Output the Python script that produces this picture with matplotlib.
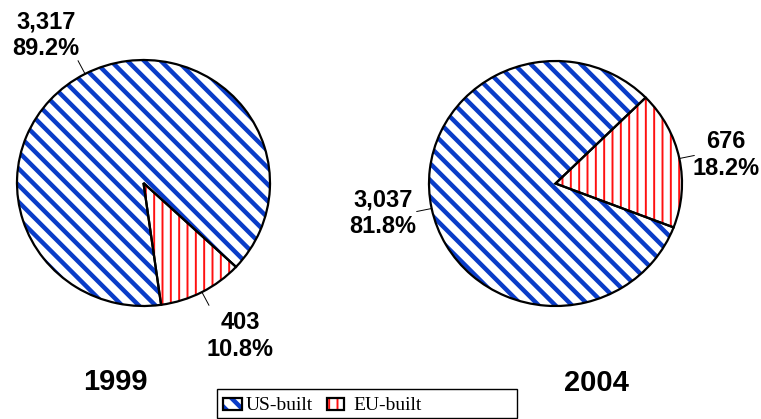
import matplotlib
matplotlib.use("Agg")
import matplotlib.pyplot as plt
import numpy as np
from matplotlib.patches import Rectangle
from matplotlib.lines import Line2D

# Aircraft in service by origin
years = ["1999", "2004"]
categories = ["US-built", "EU-built"]
us_built = [3317, 3037]
eu_built = [403, 676]
start_angles = [-82, -21]  # first slice angle, slices run clockwise

BLUE = "#0a3cc8"
RED = "#ff1010"
HATCHES = ["\\\\", "||"]
HATCH_LW = [3.2, 1.4]
COLORS = [BLUE, RED]

W, H, DPI = 761, 419, 100
plt.rcParams["font.family"] = ["Liberation Sans", "DejaVu Sans"]
plt.rcParams["hatch.linewidth"] = 3.2

fig = plt.figure(figsize=(W / DPI, H / DPI), dpi=DPI)


def fig_frac(x, y):
    return x / W, 1 - y / H


def box_axes(x0, y0, x1, y1):
    return fig.add_axes([x0 / W, 1 - y1 / H, (x1 - x0) / W, (y1 - y0) / H])


def style_hatch(patch, k):
    patch.set_facecolor("white")
    patch.set_edgecolor(COLORS[k])
    patch.set_hatch(HATCHES[k])
    patch.set_linewidth(0)
    if hasattr(patch, "set_hatch_linewidth"):
        patch.set_hatch_linewidth(HATCH_LW[k])
    else:
        patch._hatch_linewidth = HATCH_LW[k]


pie_boxes = [(17, 60, 270, 306), (429, 61, 682, 306)]
# label anchor offsets (in pie-radius units) for US / EU slices
label_pos = [
    [(-0.771, 1.203), (0.763, -1.24)],
    [(-1.364, -0.245), (1.348, 0.229)],
]
title_pos = [(115, 382), (596, 383)]

for i, year in enumerate(years):
    ax = box_axes(*pie_boxes[i])
    vals = [us_built[i], eu_built[i]]
    total = sum(vals)
    # hatched fill (hatch takes the edge colour, so outline is drawn separately)
    wedges, _ = ax.pie(vals, startangle=start_angles[i], counterclock=False,
                       radius=1, center=(0, 0), frame=False)
    for k, w in enumerate(wedges):
        style_hatch(w, k)
    outline, _ = ax.pie(vals, startangle=start_angles[i], counterclock=False,
                        radius=1, center=(0, 0), frame=False,
                        wedgeprops=dict(fill=False, edgecolor="black",
                                        linewidth=1.6))
    ax.set_xlim(-1, 1)
    ax.set_ylim(-1, 1)
    ax.set_aspect("auto")
    ax.axis("off")

    for j, w in enumerate(outline):
        mid = np.deg2rad((w.theta1 + w.theta2) / 2)
        cx, cy = np.cos(mid), np.sin(mid)
        ax.add_line(Line2D([cx, 1.12 * cx], [cy, 1.12 * cy], color="black",
                           linewidth=0.7, clip_on=False))
        pct = 100 * vals[j] / total
        tx, ty = label_pos[i][j]
        ax.text(tx, ty, f"{vals[j]:,}\n{pct:.1f}%", ha="center", va="center",
                fontsize=17, fontweight="bold", linespacing=1.22)

    fx, fy = fig_frac(*title_pos[i])
    fig.text(fx, fy, year, ha="center", va="center", fontsize=21,
             fontweight="bold")

# legend
lx0, ly0, lx1, ly1 = 217, 389, 517, 418
fig.add_artist(Rectangle(fig_frac(lx0, ly1), (lx1 - lx0) / W, (ly1 - ly0) / H,
                         transform=fig.transFigure, fill=False,
                         edgecolor="black", linewidth=1.0))
handle_boxes = [(223, 398, 242, 410), (327, 398, 344, 410)]
text_x = [246, 353]
for k, name in enumerate(categories):
    x0, y0, x1, y1 = handle_boxes[k]
    hp = Rectangle(fig_frac(x0, y1), (x1 - x0) / W, (y1 - y0) / H,
                   transform=fig.transFigure)
    style_hatch(hp, k)
    fig.add_artist(hp)
    fig.add_artist(Rectangle(fig_frac(x0, y1), (x1 - x0) / W, (y1 - y0) / H,
                             transform=fig.transFigure, fill=False,
                             edgecolor="black", linewidth=1.6))
    fx, fy = fig_frac(text_x[k], 405)
    fig.text(fx, fy, name, ha="left", va="center", fontsize=14,
             family=["Liberation Serif", "DejaVu Serif"])

fig.savefig("out.png", dpi=DPI)
